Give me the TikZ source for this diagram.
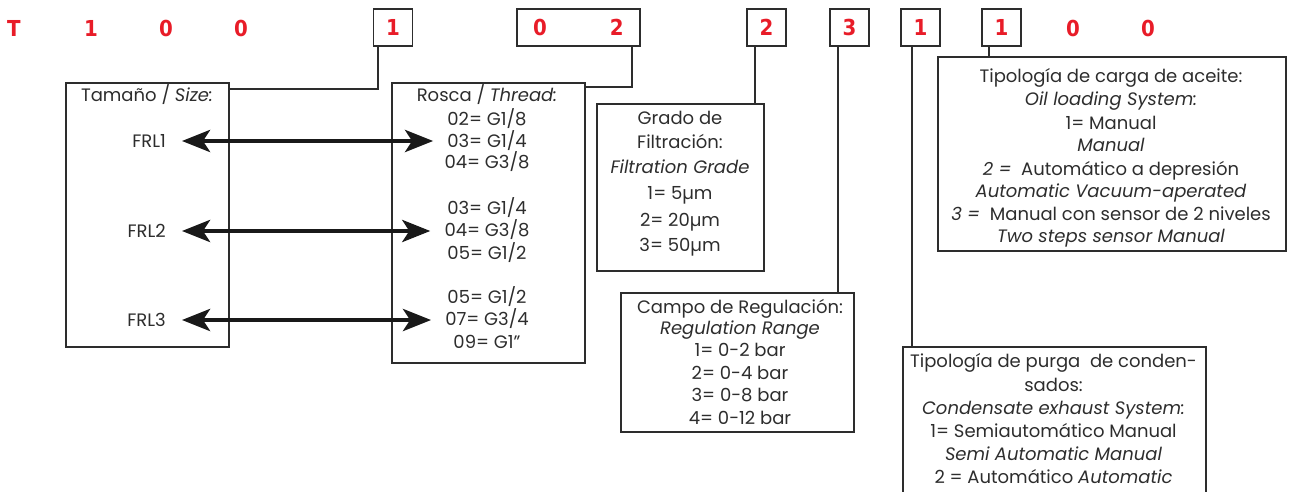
\documentclass[tikz,border=0pt]{standalone}
\usepackage{fontspec}
\setmainfont{Poppins}
\newfontfamily\codefont{DejaVu Sans Condensed}
\usetikzlibrary{arrows.meta,calc}
\definecolor{codered}{RGB}{232,28,40}
\definecolor{ink}{RGB}{45,45,45}
\begin{document}
\begin{tikzpicture}[x=1pt,y=-1pt,
  font=\fontsize{18}{22}\selectfont, text=ink,
  box/.style={draw=ink,line width=1.5pt,rectangle,inner sep=0pt,anchor=north west},
  code/.style={font=\codefont\bfseries\fontsize{22}{22}\selectfont,text=codered,inner sep=0pt,text height=16pt,text depth=0pt},
  codebox/.style={code,draw=ink,line width=1.5pt,minimum width=39pt,minimum height=37pt},
  ln/.style={inner sep=0pt,text height=13pt,text depth=0pt},
  conn/.style={draw=ink,line width=1.5pt},
  dbl/.style={line width=4.5pt,draw=black!90,{Stealth[length=28pt,width=22pt,inset=7pt]}-{Stealth[length=28pt,width=22pt,inset=7pt]}}
]
\clip (0,0) rectangle (1290,491);
% code row
\node[code] (t0) at (14,28) {T};
\node[code] (t1) at (91,28) {1};
\node[code] (t2) at (166,28) {0};
\node[code] (t3) at (241,28) {0};
\node[codebox] (c1) at (393,27.5) {1};
\node[codebox,minimum width=123pt] (c02) at (578.5,27.5) {0\hspace{63pt}2};
\node[codebox] (c2) at (766.5,27.5) {2};
\node[codebox] (c3) at (849.5,27.5) {3};
\node[codebox] (c4) at (920.5,27.5) {1};
\node[codebox] (c5) at (1001.5,27.5) {1};
\node[code] (t4) at (1073,28) {0};
\node[code] (t5) at (1148,28) {0};
% boxes
\node[box,minimum width=163pt,minimum height=264pt] (tam) at (65,82) {};
\node[box,minimum width=193pt,minimum height=280pt] (ros) at (391,82) {};
\node[box,minimum width=167pt,minimum height=167pt] (gra) at (596,103) {};
\node[box,minimum width=233pt,minimum height=139pt] (cam) at (620,292) {};
\node[box,minimum width=303pt,minimum height=160pt] (pur) at (902,346) {};
\node[box,minimum width=348pt,minimum height=194pt] (oil) at (937,56) {};
% connectors
\draw[conn] (c1.south -| 378,0) |- (tam.east |- 0,89);
\draw[conn] (c02.south -| 632,0) |- (ros.east |- 0,87);
\draw[conn] (c2.south -| 755,0) -- (gra.north -| 755,0);
\draw[conn] (c3.south -| 838,0) -- (cam.north -| 838,0);
\draw[conn] (c4.south -| 912,0) -- (pur.north -| 912,0);
\draw[conn] (c5.south -| 989,0) -- (oil.north -| 989,0);
% Tamano
\node[ln] (tamh) at (147,95) {Tamaño / \textit{Size:}};
\node[ln,anchor=east] (frl1) at (166,141) {FRL1};
\node[ln,anchor=east] (frl2) at (166,231) {FRL2};
\node[ln,anchor=east] (frl3) at (166,320) {FRL3};
% Rosca
\node[ln] (rosh) at (487,95) {Rosca / \textit{Thread:}};
\foreach \t/\y [count=\i] in {{02= G1/8}/119,{03= G1/4}/141,{04= G3/8}/162,{03= G1/4}/208,{04= G3/8}/230,{05= G1/2}/253,{05= G1/2}/297,{07= G3/4}/319,{09= G1''}/342}
  \node[ln] (r\i) at (487,\y) {\t};
\draw[dbl] ([xshift=16pt]frl1.east) -- ([xshift=-14pt]frl1.east -| r2.west);
\draw[dbl] ([xshift=16pt]frl2.east) -- ([xshift=-14pt]frl2.east -| r5.west);
\draw[dbl] ([xshift=16pt]frl3.east) -- ([xshift=-14pt]frl3.east -| r8.west);
% Grado
\foreach \t/\y [count=\i] in {{Grado de}/118,{Filtración:}/142,{\textit{Filtration Grade}}/167,{1= 5µm}/193,{2= 20µm}/220,{3= 50µm}/245}
  \node[ln] (g\i) at (680,\y) {\t};
% Campo
\foreach \t/\y [count=\i] in {{Campo de Regulación:}/307,{\textit{Regulation Range}}/328,{1= 0-2 bar}/350,{2= 0-4 bar}/373,{3= 0-8 bar}/395,{4= 0-12 bar}/418}
  \node[ln] (k\i) at (740,\y) {\t};
% Purga
\foreach \t/\y [count=\i] in {{Tipología de purga\ \ de conden-}/361,{sados:}/385,{\textit{Condensate exhaust System:}}/408,{1= Semiautomático Manual}/431,{\textit{Semi Automatic Manual}}/454,{2 = Automático \textit{Automatic}}/477}
  \node[ln] (p\i) at (1053.5,\y) {\t};
% Oil
\foreach \t/\y [count=\i] in {{Tipología de carga de aceite:}/76,{\textit{Oil loading System:}}/99,{1= Manual}/123,{\textit{Manual}}/145,{\textit{2 =}\ \ Automático a depresión}/169,{\textit{Automatic Vacuum-aperated}}/191,{\textit{3 =}\ \ Manual con sensor de 2 niveles}/214,{\textit{Two steps sensor Manual}}/236}
  \node[ln] (o\i) at (1111,\y) {\t};
\end{tikzpicture}
\end{document}
